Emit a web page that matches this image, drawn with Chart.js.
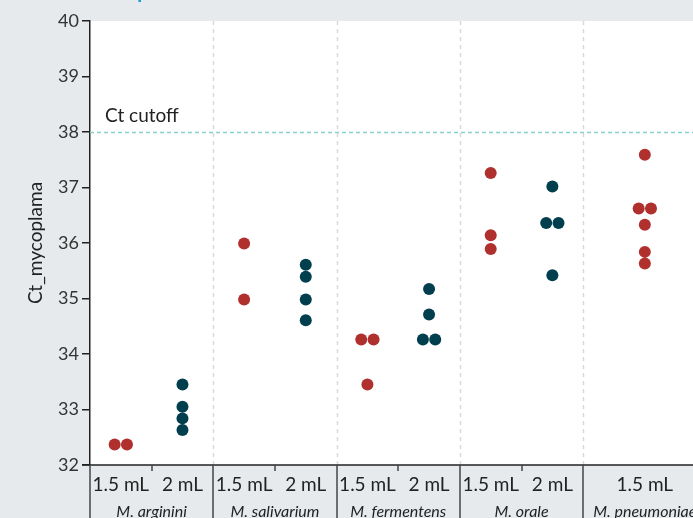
<!DOCTYPE html>
<html>
<head>
<meta charset="utf-8">
<script src="https://cdn.jsdelivr.net/npm/chart.js@4.4.1/dist/chart.umd.min.js"></script>
<style>
html,body{margin:0;padding:0;background:#e6eaed;}
#wrap{width:693px;height:518px;position:relative;}
</style>
</head>
<body>
<div id="wrap"><canvas id="c" width="693" height="518"></canvas></div>
<script>
const titleText = "Ct of spiked cells";
const species = ["M. arginini", "M. salivarium", "M. fermentens", "M. orale", "M. pneumoniae"];
const volumes = ["1.5 mL", "2 mL"];
const ct15 = [
  [32.37, 32.37],
  [35.99, 34.98],
  [34.26, 34.26, 33.45],
  [37.26, 36.14, 35.89],
  [37.59, 36.62, 36.62, 36.33, 35.84, 35.63]
];
const ct2 = [
  [33.45, 33.05, 32.84, 32.63],
  [35.61, 35.39, 34.98, 34.61],
  [35.17, 34.71, 34.26, 34.26],
  [37.02, 36.36, 36.36, 35.42],
  []
];
const yTicks = [32, 33, 34, 35, 36, 37, 38, 39, 40];
const cutoff = 38;
const cutoffLabel = "Ct cutoff";
const yTitle = "Ct_mycoplama";

const RED = "#b0302e", DARK = "#013f4f";

function centres(g) {
  const n = (ct2[g].length ? 2 : 1);
  if (n === 1) return [g * 2 + 1];
  return [g * 2 + 0.5, g * 2 + 1.5];
}
function dodge(vals, cx) {
  const pts = [];
  const seen = {};
  vals.forEach(v => { seen[v] = (seen[v] || 0) + 1; });
  const used = {};
  vals.forEach(v => {
    const n = seen[v];
    const i = used[v] || 0; used[v] = i + 1;
    const off = n > 1 ? (i - (n - 1) / 2) * 0.2 : 0;
    pts.push({ x: cx + off, y: v });
  });
  return pts;
}
const redPts = [], darkPts = [];
species.forEach((s, g) => {
  const c = centres(g);
  redPts.push(...dodge(ct15[g], c[0]));
  if (ct2[g].length) darkPts.push(...dodge(ct2[g], c[1]));
});

const FONT = "Lato, 'Open Sans', sans-serif";

const deco = {
  id: 'deco',
  beforeDraw(chart) {
    const { ctx, chartArea: a } = chart;
    ctx.save();
    ctx.fillStyle = '#e6eaed';
    ctx.fillRect(0, 0, chart.width, chart.height);
    ctx.fillStyle = '#ffffff';
    ctx.fillRect(a.left, a.top, chart.width - a.left, a.bottom - a.top);
    ctx.fillStyle = '#1a9ad6';
    ctx.font = "bold 20px " + FONT;
    ctx.textBaseline = 'alphabetic';
    ctx.textAlign = 'left';
    ctx.fillText(titleText, 80, -2);
    ctx.restore();
  },
  beforeDatasetsDraw(chart) {
    const { ctx, chartArea: a, scales: { x, y } } = chart;
    ctx.save();
    ctx.strokeStyle = '#d9d9d9';
    ctx.lineWidth = 1.5;
    ctx.setLineDash([4, 4]);
    for (let g = 1; g < species.length; g++) {
      const px = Math.round(x.getPixelForValue(g * 2)) + 0.5;
      ctx.beginPath(); ctx.moveTo(px, a.top); ctx.lineTo(px, a.bottom); ctx.stroke();
    }
    ctx.strokeStyle = '#86d3c6';
    ctx.setLineDash([4, 3]);
    const cy = Math.round(y.getPixelForValue(cutoff)) + 0.5;
    ctx.beginPath(); ctx.moveTo(a.left, cy); ctx.lineTo(chart.width, cy); ctx.stroke();
    ctx.setLineDash([]);
    ctx.fillStyle = '#222';
    ctx.font = "19px " + FONT;
    ctx.textAlign = 'left';
    ctx.textBaseline = 'alphabetic';
    ctx.fillText(cutoffLabel, a.left + 15, cy - 11);
    ctx.restore();
  },
  afterDraw(chart) {
    const { ctx, chartArea: a, scales: { x, y } } = chart;
    ctx.save();
    ctx.strokeStyle = '#222';
    ctx.lineWidth = 1.5;
    ctx.beginPath(); ctx.moveTo(a.left - 8, a.bottom); ctx.lineTo(chart.width, a.bottom); ctx.stroke();
    ctx.strokeStyle = '#444';
    ctx.lineWidth = 1.5;
    for (let g = 0; g <= species.length; g++) {
      const px = Math.round(x.getPixelForValue(g * 2));
      ctx.beginPath(); ctx.moveTo(px, a.bottom); ctx.lineTo(px, chart.height); ctx.stroke();
    }
    ctx.fillStyle = '#222';
    ctx.textAlign = 'center';
    ctx.textBaseline = 'alphabetic';
    species.forEach((s, g) => {
      const c = centres(g);
      if (c.length === 2) {
        const tx = Math.round(x.getPixelForValue(g * 2 + 1));
        ctx.strokeStyle = '#444';
        ctx.beginPath(); ctx.moveTo(tx, a.bottom); ctx.lineTo(tx, a.bottom + 6); ctx.stroke();
      }
      ctx.font = "19px " + FONT;
      c.forEach((cx, i) => {
        ctx.fillText(volumes[i], x.getPixelForValue(cx), a.bottom + 26);
      });
      ctx.font = "italic 16px " + FONT;
      ctx.fillText(s, x.getPixelForValue(g * 2 + 1), a.bottom + 52);
    });
    ctx.translate(36, (a.top + a.bottom) / 2);
    ctx.rotate(-Math.PI / 2);
    ctx.font = "19px " + FONT;
    ctx.textBaseline = 'middle';
    ctx.fillText(yTitle, 0, 0);
    ctx.restore();
  }
};

new Chart(document.getElementById('c'), {
  type: 'scatter',
  data: {
    datasets: [
      { label: '1.5 mL', data: redPts, backgroundColor: RED, borderColor: RED, pointRadius: 6, pointHoverRadius: 6, borderWidth: 0 },
      { label: '2 mL', data: darkPts, backgroundColor: DARK, borderColor: DARK, pointRadius: 6, pointHoverRadius: 6, borderWidth: 0 }
    ]
  },
  options: {
    responsive: false,
    animation: false,
    events: [],
    layout: { padding: { top: 21, bottom: 53, left: 0, right: 0 } },
    plugins: { legend: { display: false }, tooltip: { enabled: false }, title: { display: false } },
    scales: {
      x: { type: 'linear', min: 0, max: 9.684, display: false },
      y: {
        type: 'linear', min: 32, max: 40,
        afterFit(s) { s.width = 90; },
        afterBuildTicks(s) { s.ticks = yTicks.map(v => ({ value: v })); },
        grid: { drawOnChartArea: false, drawTicks: true, tickLength: 8, color: '#222', lineWidth: 1.5 },
        border: { display: true, color: '#222', width: 1.5 },
        ticks: { color: '#333', font: { family: FONT, size: 18 }, padding: 3 }
      }
    }
  },
  plugins: [deco]
});
</script>
</body>
</html>
